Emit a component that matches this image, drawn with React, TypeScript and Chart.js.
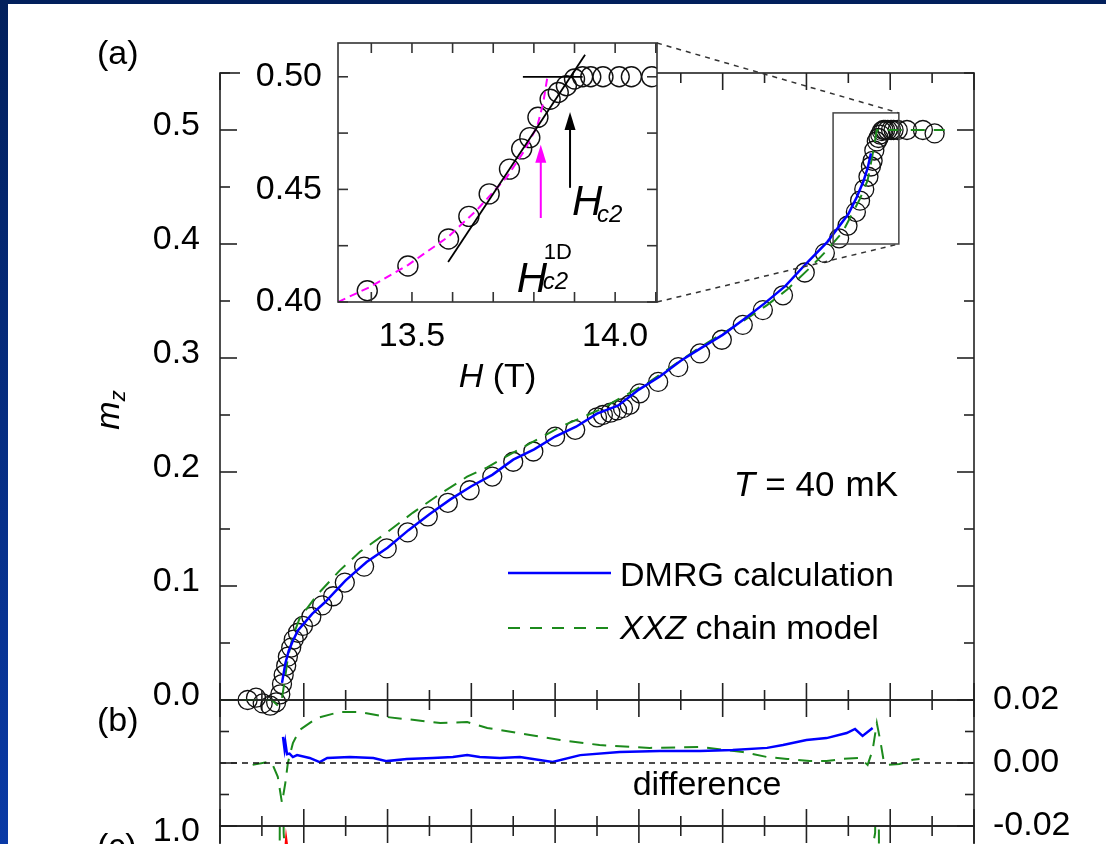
import React, { useEffect, useRef } from 'react';
import { Chart, registerables } from 'chart.js';

Chart.register(...registerables);

const W = 1106;
const H = 844;
const C_H = 1100;
const FONT = '"Liberation Sans", Arial, Helvetica, sans-serif';

// ---------- layout (pixel boxes of the plot areas) ----------
const MAIN = { left: 220, right: 974, top: 73, bottom: 700 };
const DIFF = { left: 220, right: 974, top: 700, bottom: 826 };
const PANC = { left: 220, right: 974, top: 826, bottom: 1080 };
const INSET = { left: 338, right: 657, top: 43, bottom: 302 };

// ---------- data ----------
// measured magnetization m_z vs H (open circles)
const fieldH = [6.33, 6.43, 6.51, 6.6, 6.67, 6.72, 6.74, 6.76, 6.79, 6.81, 6.85, 6.88, 6.93, 6.99, 7.09, 7.22, 7.35, 7.49, 7.72, 7.99, 8.24, 8.48, 8.72, 8.98, 9.25, 9.5, 9.74, 10.0, 10.24, 10.5, 10.57, 10.66, 10.74, 10.81, 10.89, 11.01, 11.23, 11.47, 11.73, 11.99, 12.24, 12.48, 12.72, 12.98, 13.22, 13.39, 13.49, 13.59, 13.64, 13.69, 13.74, 13.77, 13.79, 13.81, 13.84, 13.86, 13.88, 13.9, 13.92, 13.94, 13.97, 14.01, 14.04, 14.09, 14.2, 14.39, 14.53];
const magM = [0.0, 0.002, -0.003, -0.005, -0.002, 0.005, 0.014, 0.022, 0.03, 0.038, 0.046, 0.053, 0.059, 0.065, 0.073, 0.083, 0.091, 0.103, 0.117, 0.133, 0.147, 0.161, 0.173, 0.184, 0.196, 0.209, 0.218, 0.231, 0.237, 0.248, 0.25, 0.252, 0.254, 0.256, 0.259, 0.269, 0.279, 0.292, 0.304, 0.316, 0.329, 0.342, 0.355, 0.375, 0.392, 0.405, 0.416, 0.428, 0.438, 0.448, 0.459, 0.468, 0.473, 0.482, 0.49, 0.493, 0.496, 0.499, 0.5, 0.5, 0.5, 0.5, 0.5, 0.5, 0.5, 0.5, 0.497];

// DMRG calculation
const dmrgH = [6.74, 6.78, 6.82, 6.87, 6.93, 7.0, 7.1, 7.25, 7.5, 7.75, 8.0, 8.25, 8.5, 8.75, 9.0, 9.25, 9.5, 9.75, 10.0, 10.25, 10.5, 10.75, 11.0, 11.25, 11.5, 11.75, 12.0, 12.25, 12.5, 12.75, 13.0, 13.25, 13.5, 13.6, 13.68, 13.73, 13.77];
const dmrgM = [0.015, 0.032, 0.043, 0.052, 0.061, 0.067, 0.0755, 0.0855, 0.105, 0.121, 0.1336, 0.149, 0.163, 0.176, 0.1875, 0.1975, 0.2108, 0.2198, 0.2311, 0.2397, 0.2512, 0.2582, 0.2723, 0.2837, 0.2976, 0.3091, 0.3203, 0.3338, 0.3479, 0.3632, 0.3831, 0.4019, 0.4263, 0.441, 0.455, 0.4665, 0.4795];

// XXZ chain model
const xxzH = [6.0, 6.3, 6.56, 6.62, 6.69, 6.74, 6.78, 6.81, 6.87, 6.95, 7.16, 7.43, 7.67, 7.99, 8.3, 8.63, 8.95, 9.19, 9.34, 9.7, 10.06, 10.53, 11.13, 11.73, 12.24, 12.53, 12.77, 13.04, 13.24, 13.43, 13.64, 13.73, 13.79, 13.84, 13.9, 14.65];
const xxzM = [0, 0, 0, 0, -0.005, 0.0015, 0.021, 0.037, 0.056, 0.0715, 0.0923, 0.1137, 0.13, 0.1468, 0.1642, 0.181, 0.1959, 0.204, 0.2105, 0.2251, 0.2395, 0.2546, 0.2793, 0.3095, 0.3323, 0.3464, 0.36, 0.379, 0.3941, 0.4103, 0.4398, 0.4557, 0.4786, 0.5, 0.5, 0.5];

// panel (b): differences
const diffDmrgH = [6.752, 6.77, 6.78, 6.8, 6.83, 6.87, 6.92, 7.07, 7.19, 7.28, 7.55, 7.83, 7.99, 8.23, 8.54, 8.78, 8.95, 9.1, 9.34, 9.58, 9.97, 10.3, 10.77, 11.25, 11.73, 12.12, 12.53, 12.72, 13.0, 13.24, 13.48, 13.58, 13.67, 13.79];
const diffDmrgV = [0.0083, 0.0045, 0.0065, 0.0028, 0.003, 0.0019, 0.0025, 0.0016, 0.0003, 0.0016, 0.0019, 0.0016, 0.0006, 0.0013, 0.0016, 0.0019, 0.0025, 0.0019, 0.0016, 0.0019, 0.0003, 0.0025, 0.0035, 0.0038, 0.0038, 0.0041, 0.0048, 0.0057, 0.0073, 0.0079, 0.0095, 0.0108, 0.0086, 0.0111];
const diffXxzH = [6.39, 6.56, 6.62, 6.69, 6.74, 6.78, 6.81, 6.87, 6.95, 7.16, 7.43, 7.67, 7.99, 8.3, 8.63, 8.95, 9.19, 9.34, 9.7, 10.06, 10.53, 11.13, 11.73, 12.24, 12.53, 12.77, 13.04, 13.24, 13.43, 13.64, 13.73, 13.79, 13.84, 13.88, 13.92, 13.96, 14.11, 14.27, 14.35];
const diffXxzV = [-0.0006, 0.0003, 0, -0.0044, -0.0127, -0.0063, 0, 0.0063, 0.0105, 0.0143, 0.0162, 0.0162, 0.0146, 0.0137, 0.0127, 0.013, 0.0111, 0.0105, 0.0089, 0.0073, 0.0057, 0.0048, 0.0051, 0.0035, 0.0019, 0.0013, 0.0006, 0.0006, 0.0013, 0.0016, -0.0006, 0.0041, 0.0127, 0.0073, 0.001, -0.0006, -0.0003, 0.001, 0.0013];

// panel (c): slopes (only the top edge is in view)
const slopeXxzH = [6.0, 6.68, 6.71, 6.725, 6.74, 6.76, 6.8, 7.0, 7.5, 8.5, 10.0, 11.5, 12.5, 13.2, 13.6, 13.8, 13.82, 13.85, 13.87, 13.9, 15.0];
const slopeXxzV = [0, 0, 0.6, 2.4, 1.6, 0.97, 0.75, 0.52, 0.42, 0.36, 0.33, 0.36, 0.42, 0.55, 0.75, 0.93, 0.97, 2.0, 0.6, 0, 0];
const slopeDataH = [6.6, 6.72, 6.76, 6.79, 6.84, 6.95, 7.3, 8.0, 9.5, 11.0, 12.5, 13.3, 13.6, 13.75, 13.85, 13.9, 13.95, 14.5];
const slopeDataV = [0, 0.3, 0.8, 0.94, 0.8, 0.6, 0.45, 0.38, 0.34, 0.35, 0.42, 0.55, 0.7, 0.85, 0.9, 0.5, 0.05, 0];

// inset: 1D chain curve, tangent, plateau, arrows
const chain1DH = [13.318, 13.397, 13.49, 13.589, 13.66, 13.734, 13.773, 13.808, 13.823, 13.833];
const chain1DM = [0.4, 0.4067, 0.4164, 0.4289, 0.4409, 0.4556, 0.4662, 0.4778, 0.4884, 0.4996];
const tangentH = [13.589, 13.926];
const tangentM = [0.4178, 0.5098];
const plateauH = [13.773, 13.92];
const plateauM = [0.5, 0.5];
const arrowH = [13.817, 13.889];
const arrowFrom = [0.4373, 0.4507];
const arrowTo = [0.4698, 0.4844];

// axes
const fieldRange = [6, 15];
const mainYRange = [0, 0.55];
const diffYRange = [-0.02, 0.02];
const slopeYRange = [0, 1.0];
const insetXRange = [13.318, 14.103];
const insetYRange = [0.4, 0.515];
const mainYTicks = [0, 0.1, 0.2, 0.3, 0.4, 0.5];
const diffYTicks = [-0.02, 0, 0.02];
const slopeYTicks = [1.0];
const insetXTicks = [13.5, 14.0];
const insetYTicks = [0.4, 0.45, 0.5];

// ---------- helpers ----------
const pts = (xs: number[], ys: number[]) => xs.map((x, i) => ({ x, y: ys[i] }));

function font(size: number, italic = false) {
  return `${italic ? 'italic ' : ''}${size}px ${FONT}`;
}

function line(ctx: CanvasRenderingContext2D, x0: number, y0: number, x1: number, y1: number) {
  ctx.beginPath();
  ctx.moveTo(x0, y0);
  ctx.lineTo(x1, y1);
  ctx.stroke();
}

type Seg = { t: string; size: number; italic?: boolean; dy?: number; dx?: number };
function drawSegs(ctx: CanvasRenderingContext2D, segs: Seg[], x: number, y: number, align: 'left' | 'right' | 'center') {
  let total = 0;
  const ws = segs.map((s) => {
    ctx.font = font(s.size, s.italic);
    const w = ctx.measureText(s.t).width + (s.dx || 0);
    total += w;
    return w;
  });
  let cx = align === 'left' ? x : align === 'right' ? x - total : x - total / 2;
  ctx.textAlign = 'left';
  ctx.textBaseline = 'middle';
  segs.forEach((s, i) => {
    ctx.font = font(s.size, s.italic);
    ctx.fillText(s.t, cx + (s.dx || 0), y + (s.dy || 0));
    cx += ws[i];
  });
}

function xTicks(ctx: any, sc: any, a: any, from: number, to: number, step: number, every: number, maj: number, min: number, top: boolean, bottom: boolean) {
  const n = Math.round((to - from) / step);
  for (let i = 0; i <= n; i++) {
    const px = sc.getPixelForValue(from + i * step);
    const len = i % every === 0 ? maj : min;
    if (top) line(ctx, px, a.top, px, a.top + len);
    if (bottom) line(ctx, px, a.bottom, px, a.bottom - len);
  }
}
function yTicks(ctx: any, sc: any, a: any, from: number, to: number, step: number, every: number, maj: number, min: number, left: boolean, right: boolean) {
  const n = Math.round((to - from) / step);
  for (let i = 0; i <= n; i++) {
    const py = sc.getPixelForValue(from + i * step);
    const len = i % every === 0 ? maj : min;
    if (left) line(ctx, a.left, py, a.left + len, py);
    if (right) line(ctx, a.right, py, a.right - len, py);
  }
}

const FRAME = '#222';
const BLUE = '#0000ff';
const GREEN = '#1c8a1c';
const MAGENTA = '#ff00ff';
const DASH = [14, 9];

const baseOpts = {
  responsive: false,
  animation: false as const,
  devicePixelRatio: 1,
  events: [] as any[],
  plugins: { legend: { display: false }, tooltip: { enabled: false } },
};

const tickFont = { family: FONT, size: 34 };

export default function App() {
  const mainRef = useRef<HTMLCanvasElement>(null);
  const diffRef = useRef<HTMLCanvasElement>(null);
  const cRef = useRef<HTMLCanvasElement>(null);
  const insetRef = useRef<HTMLCanvasElement>(null);

  useEffect(() => {
    const charts: Chart[] = [];

    // ---------------- panel (c) ----------------
    const cDecor = {
      id: 'cDecor',
      afterDraw(chart: any) {
        const ctx = chart.ctx;
        const a = chart.chartArea;
        ctx.save();
        ctx.strokeStyle = FRAME;
        ctx.lineWidth = 1.6;
        xTicks(ctx, chart.scales.x, a, 6, 15, 0.5, 2, 17, 10, true, false);
        yTicks(ctx, chart.scales.y, a, 0, 1, 0.1, 5, 17, 10, true, true);
        ctx.strokeRect(a.left, a.top, a.right - a.left, a.bottom - a.top);
        ctx.fillStyle = '#000';
        drawSegs(ctx, [{ t: '(c)', size: 34 }], 97, 848, 'left');
        ctx.restore();
      },
    };
    charts.push(
      new Chart(cRef.current!, {
        type: 'line',
        data: {
          datasets: [
            { data: pts(slopeDataH, slopeDataV), borderColor: '#ff0000', borderWidth: 2.5, pointRadius: 0 },
            { data: pts(slopeXxzH, slopeXxzV), borderColor: GREEN, borderWidth: 2, borderDash: DASH, pointRadius: 0 },
          ],
        },
        options: {
          ...baseOpts,
          layout: { padding: { left: 0, top: PANC.top, right: W - PANC.right, bottom: C_H - PANC.bottom } },
          scales: {
            x: { type: 'linear', min: fieldRange[0], max: fieldRange[1], display: false },
            y: {
              type: 'linear', min: slopeYRange[0], max: slopeYRange[1], position: 'left',
              afterFit: (s: any) => { s.width = PANC.left; },
              afterBuildTicks: (s: any) => { s.ticks = slopeYTicks.map((v) => ({ value: v })); },
              grid: { display: false, drawTicks: false }, border: { display: false },
              ticks: { callback: (v: any) => Number(v).toFixed(1), font: tickFont, color: '#000', padding: 20, labelOffset: 6 },
            },
          },
        } as any,
        plugins: [cDecor],
      })
    );

    // ---------------- panel (b) ----------------
    const diffDecor = {
      id: 'diffDecor',
      afterDraw(chart: any) {
        const ctx = chart.ctx;
        const a = chart.chartArea;
        const ys = chart.scales.y;
        ctx.save();
        ctx.strokeStyle = '#111';
        ctx.lineWidth = 1.5;
        ctx.setLineDash([6, 5]);
        const y0 = ys.getPixelForValue(0);
        line(ctx, a.left, y0, a.right, y0);
        ctx.setLineDash([]);
        ctx.strokeStyle = FRAME;
        ctx.lineWidth = 1.6;
        xTicks(ctx, chart.scales.x, a, 6, 15, 0.5, 2, 17, 10, true, true);
        yTicks(ctx, ys, a, -0.02, 0.02, 0.01, 2, 17, 9, true, true);
        ctx.strokeRect(a.left, a.top, a.right - a.left, a.bottom - a.top);
        ctx.fillStyle = '#000';
        drawSegs(ctx, [{ t: 'difference', size: 34 }], 707, 786, 'center');
        drawSegs(ctx, [{ t: '(b)', size: 34 }], 97, 722, 'left');
        ctx.restore();
      },
    };
    charts.push(
      new Chart(diffRef.current!, {
        type: 'line',
        data: {
          datasets: [
            { data: pts(diffDmrgH, diffDmrgV), borderColor: BLUE, borderWidth: 2.5, pointRadius: 0 },
            { data: pts(diffXxzH, diffXxzV), borderColor: GREEN, borderWidth: 2, borderDash: DASH, pointRadius: 0 },
          ],
        },
        options: {
          ...baseOpts,
          layout: { padding: { left: DIFF.left, top: DIFF.top, right: 0, bottom: C_H - DIFF.bottom } },
          scales: {
            x: { type: 'linear', min: fieldRange[0], max: fieldRange[1], display: false },
            y: {
              type: 'linear', min: diffYRange[0], max: diffYRange[1], position: 'right',
              afterFit: (s: any) => { s.width = W - DIFF.right; },
              afterBuildTicks: (s: any) => { s.ticks = diffYTicks.map((v) => ({ value: v })); },
              grid: { display: false, drawTicks: false }, border: { display: false },
              ticks: { callback: (v: any) => Number(v).toFixed(2), font: tickFont, color: '#000', padding: 19 },
            },
          },
        } as any,
        plugins: [diffDecor],
      })
    );

    // ---------------- panel (a) ----------------
    const mainDecor = {
      id: 'mainDecor',
      afterDraw(chart: any) {
        const ctx = chart.ctx;
        const a = chart.chartArea;
        const xs = chart.scales.x;
        const ys = chart.scales.y;
        ctx.save();
        ctx.strokeStyle = FRAME;
        ctx.lineWidth = 1.6;
        xTicks(ctx, xs, a, 6, 15, 0.5, 2, 17, 10, true, true);
        yTicks(ctx, ys, a, 0, 0.55, 0.05, 2, 17, 10, true, true);
        ctx.strokeRect(a.left, a.top, a.right - a.left, a.bottom - a.top);

        // zoom box + connectors
        const bx0 = xs.getPixelForValue(insetXRange[0]);
        const bx1 = xs.getPixelForValue(insetXRange[1]);
        const byT = ys.getPixelForValue(insetYRange[1]);
        const byB = ys.getPixelForValue(insetYRange[0]);
        ctx.strokeStyle = '#444';
        ctx.lineWidth = 1.5;
        ctx.strokeRect(bx0, byT, bx1 - bx0, byB - byT);
        ctx.setLineDash([5, 5]);
        ctx.strokeStyle = '#333';
        line(ctx, INSET.right, INSET.top, bx1, byT);
        line(ctx, INSET.right, INSET.bottom, bx1, byB);
        ctx.setLineDash([]);

        // legend
        ctx.strokeStyle = BLUE;
        ctx.lineWidth = 2.5;
        line(ctx, 508, 573, 611, 573);
        ctx.strokeStyle = GREEN;
        ctx.lineWidth = 2.2;
        ctx.setLineDash([12, 10]);
        line(ctx, 508, 628, 611, 628);
        ctx.setLineDash([]);
        ctx.fillStyle = '#000';
        drawSegs(ctx, [{ t: 'DMRG calculation', size: 34 }], 620, 577, 'left');
        drawSegs(ctx, [{ t: 'XXZ', size: 34, italic: true }, { t: ' chain model', size: 34 }], 620, 630, 'left');

        // T = 40 mK
        drawSegs(
          ctx,
          [
            { t: 'T', size: 35, italic: true },
            { t: '=', size: 35, dx: 10 },
            { t: '40', size: 35, dx: 10 },
            { t: 'mK', size: 35, dx: 11 },
          ],
          898, 486, 'right'
        );

        // (a)
        drawSegs(ctx, [{ t: '(a)', size: 34 }], 97, 55, 'left');

        // m_z axis title
        ctx.save();
        ctx.translate(110, 410);
        ctx.rotate(-Math.PI / 2);
        drawSegs(ctx, [{ t: 'm', size: 34, italic: true }, { t: 'z', size: 22, italic: true, dy: 9 }], 0, 0, 'center');
        ctx.restore();
        ctx.restore();
      },
    };
    charts.push(
      new Chart(mainRef.current!, {
        type: 'line',
        data: {
          datasets: [
            { data: pts(dmrgH, dmrgM), borderColor: BLUE, borderWidth: 2.5, pointRadius: 0, clip: false },
            { data: pts(xxzH, xxzM), borderColor: GREEN, borderWidth: 2, borderDash: DASH, pointRadius: 0, clip: false },
            {
              data: pts(fieldH, magM), showLine: false, pointRadius: 9.5, pointBorderWidth: 1.3,
              pointBorderColor: '#111', pointBackgroundColor: 'rgba(0,0,0,0)', clip: false,
            },
          ],
        },
        options: {
          ...baseOpts,
          layout: { padding: { left: 0, top: MAIN.top, right: W - MAIN.right, bottom: H - MAIN.bottom } },
          scales: {
            x: { type: 'linear', min: fieldRange[0], max: fieldRange[1], display: false },
            y: {
              type: 'linear', min: mainYRange[0], max: mainYRange[1], position: 'left',
              afterFit: (s: any) => { s.width = MAIN.left; },
              afterBuildTicks: (s: any) => { s.ticks = mainYTicks.map((v) => ({ value: v })); },
              grid: { display: false, drawTicks: false }, border: { display: false },
              ticks: { callback: (v: any) => Number(v).toFixed(1), font: tickFont, color: '#000', padding: 20, labelOffset: -4 },
            },
          },
        } as any,
        plugins: [mainDecor],
      })
    );

    // ---------------- inset ----------------
    const insetDecor = {
      id: 'insetDecor',
      beforeDraw(chart: any) {
        const a = chart.chartArea;
        const ctx = chart.ctx;
        ctx.save();
        ctx.fillStyle = '#fff';
        ctx.fillRect(240, 20, a.right - 240, a.bottom - 20);
        ctx.restore();
      },
      afterDraw(chart: any) {
        const ctx = chart.ctx;
        const a = chart.chartArea;
        const xs = chart.scales.x;
        const ys = chart.scales.y;
        ctx.save();
        // arrows
        const colors = [MAGENTA, '#000'];
        arrowH.forEach((h, i) => {
          const px = xs.getPixelForValue(h);
          const y0 = ys.getPixelForValue(arrowFrom[i]);
          const y1 = ys.getPixelForValue(arrowTo[i]);
          ctx.strokeStyle = colors[i];
          ctx.fillStyle = colors[i];
          ctx.lineWidth = 2;
          line(ctx, px, y0, px, y1 + 14);
          ctx.beginPath();
          ctx.moveTo(px, y1);
          ctx.lineTo(px - 5.5, y1 + 18);
          ctx.lineTo(px + 5.5, y1 + 18);
          ctx.closePath();
          ctx.fill();
        });
        ctx.fillStyle = '#000';
        // H_c2^1D label below magenta arrow
        const mx = xs.getPixelForValue(arrowH[0]);
        const my = ys.getPixelForValue(arrowFrom[0]);
        ctx.font = font(42, true);
        ctx.textAlign = 'left';
        ctx.textBaseline = 'alphabetic';
        ctx.fillText('H', mx - 24, my + 74);
        ctx.font = font(24, true);
        ctx.fillText('c2', mx + 2, my + 71);
        ctx.font = font(22);
        ctx.fillText('1D', mx + 3, my + 41);
        // H_c2 label below black arrow
        const bx = xs.getPixelForValue(arrowH[1]);
        const by = ys.getPixelForValue(arrowFrom[1]);
        ctx.font = font(42, true);
        ctx.fillText('H', bx + 2, by + 27);
        ctx.font = font(24, true);
        ctx.fillText('c2', bx + 27, by + 34);

        // ticks + frame
        ctx.strokeStyle = '#333';
        ctx.lineWidth = 1.6;
        xTicks(ctx, xs, a, 13.4, 14.1, 0.1, 1, 10, 10, true, true);
        yTicks(ctx, ys, a, 0.4, 0.5, 0.025, 1, 10, 10, true, true);
        ctx.strokeRect(a.left, a.top, a.right - a.left, a.bottom - a.top);

        // axis title H (T)
        ctx.fillStyle = '#000';
        drawSegs(ctx, [{ t: 'H', size: 34, italic: true }, { t: ' (T)', size: 34 }], (a.left + a.right) / 2, a.bottom + 76, 'center');
        ctx.restore();
      },
    };
    charts.push(
      new Chart(insetRef.current!, {
        type: 'line',
        data: {
          datasets: [
            { data: pts(tangentH, tangentM), borderColor: '#000', borderWidth: 1.8, pointRadius: 0, clip: 0 },
            { data: pts(plateauH, plateauM), borderColor: '#000', borderWidth: 1.8, pointRadius: 0, clip: 0 },
            { data: pts(chain1DH, chain1DM), borderColor: MAGENTA, borderWidth: 2, borderDash: [8, 5], pointRadius: 0, clip: 0 },
            {
              data: pts(fieldH, magM), showLine: false, pointRadius: 10, pointBorderWidth: 1.4,
              pointBorderColor: '#111', pointBackgroundColor: 'rgba(0,0,0,0)', clip: 0,
            },
          ],
        },
        options: {
          ...baseOpts,
          layout: { padding: { left: 0, top: INSET.top, right: W - INSET.right, bottom: 0 } },
          scales: {
            x: {
              type: 'linear', min: insetXRange[0], max: insetXRange[1], position: 'bottom',
              afterFit: (s: any) => { s.height = H - INSET.bottom; },
              afterBuildTicks: (s: any) => { s.ticks = insetXTicks.map((v) => ({ value: v })); },
              grid: { display: false, drawTicks: false }, border: { display: false },
              ticks: { callback: (v: any) => Number(v).toFixed(1), font: tickFont, color: '#000', padding: 14, maxRotation: 0 },
            },
            y: {
              type: 'linear', min: insetYRange[0], max: insetYRange[1], position: 'left',
              afterFit: (s: any) => { s.width = INSET.left; },
              afterBuildTicks: (s: any) => { s.ticks = insetYTicks.map((v) => ({ value: v })); },
              grid: { display: false, drawTicks: false }, border: { display: false },
              ticks: { callback: (v: any) => Number(v).toFixed(2), font: tickFont, color: '#000', padding: 16 },
            },
          },
        } as any,
        plugins: [insetDecor],
      })
    );

    return () => charts.forEach((c) => c.destroy());
  }, []);

  const cv = (h: number) => ({ position: 'absolute' as const, left: 0, top: 0, width: W, height: h });
  return (
    <div
      style={{
        position: 'fixed', left: 0, top: 0, width: W, height: H, overflow: 'hidden',
        background: 'linear-gradient(#02205c, #0a3aa6)',
      }}
    >
      <div style={{ position: 'absolute', left: 8, top: 4, right: 0, bottom: 0, background: '#fff' }} />
      <canvas ref={cRef} width={W} height={C_H} style={cv(C_H)} />
      <canvas ref={diffRef} width={W} height={C_H} style={cv(C_H)} />
      <canvas ref={mainRef} width={W} height={H} style={cv(H)} />
      <canvas ref={insetRef} width={W} height={H} style={cv(H)} />
    </div>
  );
}
